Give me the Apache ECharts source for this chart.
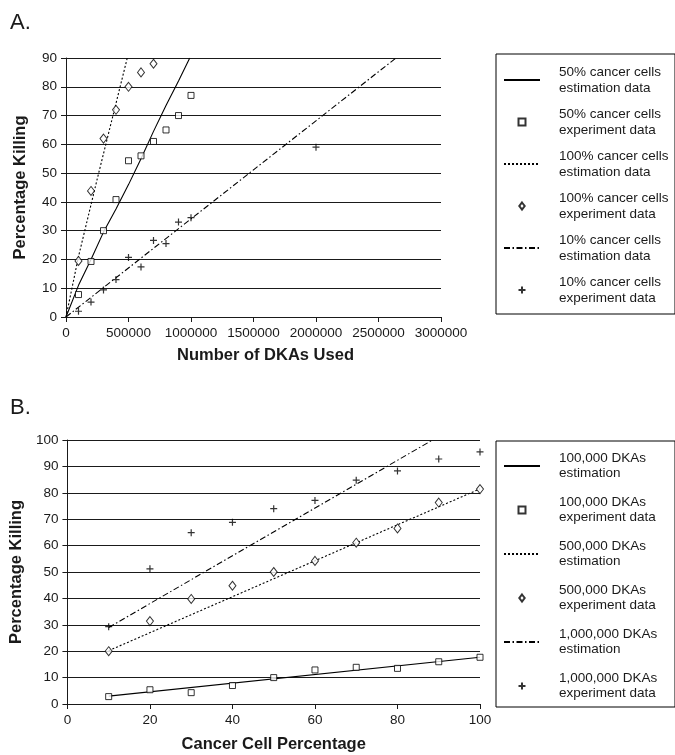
<!DOCTYPE html>
<html>
<head>
<meta charset="utf-8">
<script src="https://cdn.jsdelivr.net/npm/echarts@6/dist/echarts.min.js"></script>
<style>html,body{margin:0;padding:0;background:#fff}#c{width:675px;height:755px}</style>
</head>
<body>
<div id="c"></div>
<script>
// ---------- Panel A data ----------
const aXTicks = [0, 500000, 1000000, 1500000, 2000000, 2500000, 3000000];
const a50EstX = [0, 100000, 200000, 300000, 400000, 500000, 600000, 700000, 800000, 900000, 990000];
const a50EstY = [0, 11, 20, 29.5, 37.5, 46, 55, 64.5, 73.5, 82, 90];
const a50ExpX = [100000, 200000, 300000, 400000, 500000, 600000, 700000, 800000, 900000, 1000000];
const a50ExpY = [7.8, 19.3, 30, 40.8, 54.3, 56, 61, 65, 70, 77];
const a100EstX = [0, 100000, 250000, 490000];
const a100EstY = [0, 21, 48, 90];
const a100ExpX = [100000, 200000, 300000, 400000, 500000, 600000, 700000];
const a100ExpY = [19.5, 43.8, 62, 72, 80, 85, 88];
const a10EstX = [0, 2640000];
const a10EstY = [0, 90];
const a10ExpX = [100000, 200000, 300000, 400000, 500000, 600000, 700000, 800000, 900000, 1000000, 2000000];
const a10ExpY = [2, 5.2, 9.4, 13, 20.7, 17.4, 26.6, 25.5, 33, 34.5, 59];

// ---------- Panel B data ----------
const bX = [10, 20, 30, 40, 50, 60, 70, 80, 90, 100];
const b100EstX = [10, 100];
const b100EstY = [3, 17.7];
const b100ExpY = [2.8, 5.4, 4.3, 7, 10, 12.9, 13.9, 13.5, 16, 17.7];
const b500EstX = [10, 100];
const b500EstY = [20.2, 81.5];
const b500ExpY = [20, 31.4, 39.8, 44.8, 50, 54.2, 61.1, 66.5, 76.3, 81.4];
const b1mEstX = [10, 88.5];
const b1mEstY = [29, 100];
const b1mExpY = [29.3, 51.2, 64.9, 68.8, 74, 77.1, 84.8, 88.3, 92.8, 95.5];

const aNames = [
  '50% cancer cells\nestimation data', '50% cancer cells\nexperiment data',
  '100% cancer cells\nestimation data', '100% cancer cells\nexperiment data',
  '10% cancer cells\nestimation data', '10% cancer cells\nexperiment data'
];
const bNames = [
  '100,000 DKAs\nestimation', '100,000 DKAs\nexperiment data',
  '500,000 DKAs\nestimation', '500,000 DKAs\nexperiment data',
  '1,000,000 DKAs\nestimation', '1,000,000 DKAs\nexperiment data'
];

const zip = (xs, ys) => xs.map((x, i) => [x, ys[i]]);
const FONT = '"Liberation Sans", Arial, sans-serif';
const INK = '#1a1a1a';
const DOT = [2, 2];
const DASHDOT = [6, 2.5, 1.5, 2.5];
const PLUS = 'path://M5,0L5,10M0,5L10,5';
const SQUARE = 'path://M0,0L10,0L10,10L0,10Z';
const DIAMOND = 'path://M5,0L10,6.5L5,13L0,6.5Z';

function lineS(name, data, dash, xi) {
  return {
    type: 'line', name, data, xAxisIndex: xi, yAxisIndex: xi,
    symbol: 'none', silent: true, clip: true,
    lineStyle: { color: '#000', width: 1.1, type: dash },
    itemStyle: { color: '#000' }, z: 3
  };
}
function scat(name, data, kind, xi) {
  const s = {
    type: 'scatter', name, data, xAxisIndex: xi, yAxisIndex: xi, silent: true, z: 4,
    itemStyle: { color: '#fff', borderColor: '#000', borderWidth: 1 }
  };
  if (kind === 'sq') { s.symbol = SQUARE; s.symbolSize = 6; }
  if (kind === 'di') { s.symbol = DIAMOND; s.symbolSize = [7, 9]; }
  if (kind === 'pl') { s.symbol = PLUS; s.symbolSize = 7; s.itemStyle = { color: 'transparent', borderColor: '#000', borderWidth: 1.2 }; }
  return s;
}
function legendData(names) {
  return names.map((n, i) => i % 2 === 0
    ? { name: n, itemStyle: { color: 'transparent', borderColor: 'transparent', borderWidth: 0 } }
    : { name: n });
}

const axisLbl = { color: INK, fontSize: 13.5, fontFamily: FONT };
const nameSt = { color: INK, fontSize: 16.5, fontWeight: 'bold', fontFamily: FONT };
const axLine = { show: true, lineStyle: { color: INK, width: 1 } };
const axTick = { show: true, length: 5, lineStyle: { color: INK, width: 1 } };
const split = { show: true, lineStyle: { color: INK, width: 1 } };

const legendCommon = {
  orient: 'vertical', left: 496, itemWidth: 36, itemHeight: 7,
  borderColor: '#000', borderWidth: 1, borderRadius: 0,
  inactiveColor: '#000', selectedMode: false, symbolKeepAspect: true,
  textStyle: { color: INK, fontSize: 13.5, fontFamily: FONT, width: 110, padding: [0, 0, 0, 14] }
};

const option = {
  animation: false,
  backgroundColor: '#fff',
  title: [
    { text: 'A.', left: 5, top: 7, textStyle: { fontSize: 22, fontWeight: 'normal', color: INK, fontFamily: FONT } },
    { text: 'B.', left: 5, top: 392, textStyle: { fontSize: 22, fontWeight: 'normal', color: INK, fontFamily: FONT } }
  ],
  legend: [
    Object.assign({}, legendCommon, {
      top: 54, data: legendData(aNames), itemGap: 10, padding: [10, 6, 8, 7],
      textStyle: Object.assign({}, legendCommon.textStyle, { lineHeight: 16 })
    }),
    Object.assign({}, legendCommon, {
      top: 441, data: legendData(bNames), itemGap: 14, padding: [10, 6, 6, 7],
      textStyle: Object.assign({}, legendCommon.textStyle, { lineHeight: 15 })
    })
  ],
  grid: [
    { left: 66, right: 234, top: 58, bottom: 438, containLabel: false },
    { left: 67, right: 195, top: 440, bottom: 51, containLabel: false }
  ],
  xAxis: [
    {
      type: 'value', gridIndex: 0, min: 0, max: 3000000, interval: 500000,
      name: 'Number of DKAs Used', nameLocation: 'middle', nameGap: 30,
      nameTextStyle: Object.assign({}, nameSt, { padding: [0, 0, 0, 24] }),
      axisLine: axLine, axisTick: axTick, splitLine: { show: false },
      axisLabel: Object.assign({}, axisLbl, { margin: 9, formatter: v => String(v) })
    },
    {
      type: 'value', gridIndex: 1, min: 0, max: 100, interval: 20,
      name: 'Cancer Cell Percentage', nameLocation: 'middle', nameGap: 32,
      nameTextStyle: nameSt,
      axisLine: axLine, axisTick: axTick, splitLine: { show: false },
      axisLabel: Object.assign({}, axisLbl, { margin: 9 })
    }
  ],
  yAxis: [
    {
      type: 'value', gridIndex: 0, min: 0, max: 90, interval: 10,
      name: 'Percentage Killing', nameLocation: 'middle', nameGap: 37, nameRotate: 90,
      nameTextStyle: nameSt,
      axisLine: axLine, axisTick: axTick, splitLine: split,
      axisLabel: Object.assign({}, axisLbl, { margin: 9 })
    },
    {
      type: 'value', gridIndex: 1, min: 0, max: 100, interval: 10,
      name: 'Percentage Killing', nameLocation: 'middle', nameGap: 37, nameRotate: 90,
      nameTextStyle: nameSt,
      axisLine: axLine, axisTick: axTick, splitLine: split,
      axisLabel: Object.assign({}, axisLbl, { margin: 9 })
    }
  ],
  series: [
    lineS(aNames[0], zip(a50EstX, a50EstY), 'solid', 0),
    scat(aNames[1], zip(a50ExpX, a50ExpY), 'sq', 0),
    lineS(aNames[2], zip(a100EstX, a100EstY), DOT, 0),
    scat(aNames[3], zip(a100ExpX, a100ExpY), 'di', 0),
    lineS(aNames[4], zip(a10EstX, a10EstY), DASHDOT, 0),
    scat(aNames[5], zip(a10ExpX, a10ExpY), 'pl', 0),

    lineS(bNames[0], zip(b100EstX, b100EstY), 'solid', 1),
    scat(bNames[1], zip(bX, b100ExpY), 'sq', 1),
    lineS(bNames[2], zip(b500EstX, b500EstY), DOT, 1),
    scat(bNames[3], zip(bX, b500ExpY), 'di', 1),
    lineS(bNames[4], zip(b1mEstX, b1mEstY), DASHDOT, 1),
    scat(bNames[5], zip(bX, b1mExpY), 'pl', 1)
  ]
};

const chart = echarts.init(document.getElementById('c'), null, { renderer: 'canvas' });
chart.setOption(option);
</script>
</body>
</html>
